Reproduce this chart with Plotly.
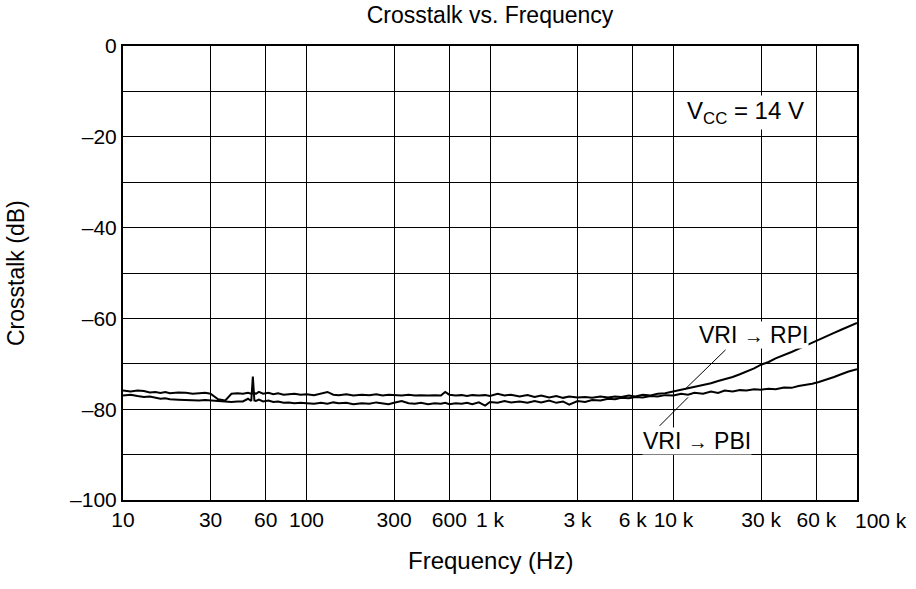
import plotly.graph_objs as go

# Частоты (Гц)
freq = [10, 11, 12, 13, 14, 15, 16, 17, 18, 20, 22, 24, 26, 28, 30, 33, 36, 39, 42, 45,
        48, 50, 51, 52, 53, 55, 58, 62, 66, 70, 75, 80, 86, 93, 100, 110, 120, 130, 140,
        150, 165, 180, 200, 220, 240, 260, 280, 300, 330, 360, 390, 420, 460, 500, 540,
        570, 600, 650, 700, 750, 800, 870, 940, 1000, 1100, 1200, 1300, 1450, 1600, 1750,
        1900, 2100, 2300, 2500, 2700, 3000, 3300, 3600, 4000, 4400, 4800, 5200, 5700,
        6200, 6800, 7500, 8200, 9000, 10000, 11000, 12000, 13000, 14500, 16000, 17500,
        19000, 21000, 23000, 25000, 27500, 30000, 33000, 36000, 40000, 44000, 48000,
        52000, 57000, 62000, 68000, 75000, 82000, 90000, 100000]

# VRI -> RPI (dB)
rpi = [-75.9, -76.1, -75.9, -76.0, -76.3, -76.2, -76.4, -76.2, -76.5, -76.3, -76.4, -76.6,
       -76.5, -76.4, -76.6, -77.8, -78.1, -76.6, -76.5, -76.6, -76.4, -76.6, -76.5, -76.4,
       -76.6, -76.2, -76.6, -76.4, -76.7, -76.5, -76.8, -76.7, -76.6, -76.8, -76.7, -76.9,
       -76.6, -76.2, -76.8, -76.9, -76.7, -77.0, -76.8, -76.9, -76.7, -77.0, -76.8, -76.9,
       -77.0, -76.8, -77.0, -76.9, -77.0, -76.9, -77.0, -76.2, -76.8, -77.0, -76.9, -77.1,
       -76.9, -77.0, -76.9, -77.1, -76.6, -77.0, -76.8, -77.2, -76.9, -77.3, -77.0, -77.4,
       -77.1, -77.5, -77.2, -77.4, -77.3, -77.5, -77.2, -77.4, -77.2, -77.3, -77.0, -77.2,
       -76.8, -77.0, -76.6, -76.5, -76.1, -75.8, -75.5, -75.2, -74.8, -74.3, -73.8, -73.4,
       -72.9, -72.3, -71.7, -71.0, -70.2, -69.6, -68.8, -68.1, -67.4, -66.7, -66.1, -65.4,
       -64.8, -64.0, -63.2, -62.5, -61.8, -61.0]

# VRI -> PBI (dB)
pbi = [-77.0, -76.8, -77.1, -77.3, -77.2, -77.5, -77.7, -77.6, -77.8, -77.9, -78.0, -78.0,
       -78.1, -78.0, -78.1, -78.2, -78.3, -78.4, -78.3, -78.3, -77.7, -78.2, -72.8, -78.1,
       -78.2, -77.9, -78.3, -78.1, -78.4, -78.3, -78.6, -78.5, -78.7, -78.6, -78.7, -78.8,
       -78.6, -78.8, -78.5, -78.7, -78.6, -78.9, -78.7, -78.8, -78.5, -78.7, -78.9, -78.6,
       -78.2, -78.7, -78.8, -78.6, -78.9, -78.7, -78.8, -78.6, -78.9, -78.7, -78.8, -78.6,
       -78.9, -78.5, -79.2, -78.4, -78.6, -78.2, -78.5, -78.3, -78.6, -78.2, -78.5, -78.1,
       -78.6, -78.3, -79.0, -78.2, -78.4, -78.0, -78.1, -77.7, -77.8, -77.5, -77.6, -77.3,
       -77.4, -77.1, -77.2, -76.9, -77.0, -76.6, -76.8, -76.4, -76.6, -76.1, -76.4, -75.9,
       -76.1, -75.8, -75.9, -75.6, -75.7, -75.5, -75.6, -75.2, -75.3, -74.9, -74.7, -74.4,
       -74.0, -73.5, -72.9, -72.3, -71.7, -71.2]

# Подписи осей (последняя подпись "100 k" сдвинута вправо, как в оригинале)
x_ticks = [10, 30, 60, 100, 300, 600, 1000, 3000, 6000, 10000, 30000, 60000, 100000]
x_labels = ["10", "30", "60", "100", "300", "600", "1 k", "3 k", "6 k", "10 k",
            "30 k", "60 k", ""]
last_x_label = "100 k"
y_ticks = [0, -10, -20, -30, -40, -50, -60, -70, -80, -90, -100]
y_labels = ["0", "", "–20", "", "–40", "", "–60", "", "–80", "", "–100"]

FONT = "Liberation Sans, Arial, sans-serif"
ARROW = "<span style='font-size:20px'>→</span>"

W, H = 916, 589
L, R, T, B = 123, 59, 46, 89
PH = H - T - B  # высота области построения (454 px)
PW = W - L - R  # ширина области построения (734 px)

fig = go.Figure()
fig.add_trace(go.Scatter(x=freq, y=rpi, mode="lines",
                         line=dict(color="black", width=2), name="VRI → RPI"))
fig.add_trace(go.Scatter(x=freq, y=pbi, mode="lines",
                         line=dict(color="black", width=2), name="VRI → PBI"))

# Подписи кривых со стрелками (x в log10)
fig.add_annotation(x=4.436, y=-63.7, text="VRI " + ARROW + " RPI",
                   showarrow=False, bgcolor="white", borderpad=0,
                   font=dict(size=23))
fig.add_annotation(x=4.063, y=-75.6, ax=4.292, ay=-66.6, axref="x", ayref="y",
                   text="", showarrow=True, arrowhead=0, arrowwidth=1,
                   arrowcolor="black")
fig.add_annotation(x=4.128, y=-87.1, text="VRI " + ARROW + " PBI",
                   showarrow=False, bgcolor="white", borderpad=0,
                   font=dict(size=23))
fig.add_annotation(x=4.079, y=-77.4, ax=3.916, ay=-84.0, axref="x", ayref="y",
                   text="", showarrow=True, arrowhead=0, arrowwidth=1,
                   arrowcolor="black")
fig.add_annotation(x=4.395, y=-14.6, text="V<sub>CC</sub> = 14 V",
                   showarrow=False, bgcolor="white", borderpad=1,
                   font=dict(size=24))

# "100 k" под правым краем
fig.add_annotation(x=5, y=-20 / PH, xref="x", yref="paper",
                   text=last_x_label, showarrow=False, xanchor="left",
                   yanchor="middle", xshift=-4, font=dict(size=21))

# Подписи осей как аннотации
fig.add_annotation(x=0.5, y=-60 / PH, xref="paper", yref="paper",
                   text="Frequency (Hz)", showarrow=False, yanchor="middle",
                   font=dict(size=24))
fig.add_annotation(x=-107 / PW, y=0.5, xref="paper", yref="paper",
                   text="Crosstalk (dB)", showarrow=False, textangle=-90,
                   xanchor="center", yanchor="middle", font=dict(size=23))

fig.update_layout(
    title=dict(text="Crosstalk vs. Frequency", x=(L + PW / 2) / W,
               xanchor="center", y=1 - 15 / H, yanchor="middle",
               font=dict(size=23, color="black")),
    font=dict(family=FONT, color="black", size=21),
    xaxis=dict(
        type="log", range=[1, 5],
        tickvals=x_ticks, ticktext=x_labels, tickangle=0,
        showgrid=True, gridcolor="black", gridwidth=1,
        showline=True, linecolor="black", linewidth=2, mirror=True,
        ticks="", zeroline=False, automargin=False,
    ),
    yaxis=dict(
        range=[-100, 0],
        tickvals=y_ticks, ticktext=y_labels,
        showgrid=True, gridcolor="black", gridwidth=1,
        showline=True, linecolor="black", linewidth=2, mirror=True,
        ticks="", zeroline=False, automargin=False,
    ),
    showlegend=False,
    width=W,
    height=H,
    margin=dict(l=L, r=R, t=T, b=B),
    plot_bgcolor="white",
    paper_bgcolor="white",
)

# убираем отступ страницы, чтобы график занял всё окно
fig.write_html("out.html", config={"displayModeBar": False},
               post_script="document.body.style.margin='0';")
